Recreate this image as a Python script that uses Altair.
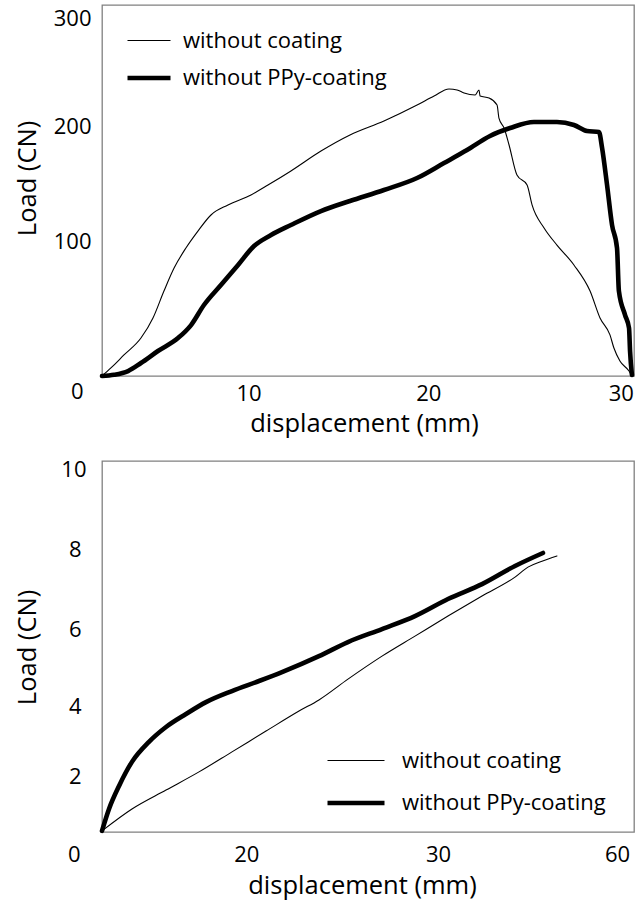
import altair as alt
import pandas as pd

FONT = "Open Sans"
SERIES = ["without coating", "without PPy-coating"]

# Upper test: displacement (mm) vs load (CN)
TOP_THIN_X = [0, 0.52, 1.28, 2.27, 2.97, 3.61, 4.20, 4.89, 5.59, 6.35,
              7.34, 8.68, 9.67, 11.01, 12.76, 14.45, 16.43, 18.36, 19.35, 20.22,
              20.69, 21.10, 21.74, 21.97, 22.03, 22.55, 23.02, 23.13, 23.43, 23.72,
              24.18, 24.77, 25.06, 25.76, 26.51, 27.50, 28.44, 29.02, 29.60, 29.83,
              30.18, 30.71, 30.88]
TOP_THIN_Y = [0, 6.5, 17.0, 30.7, 46.9, 68.7, 87.3, 103.5, 117.2, 130.2,
              138.3, 146.4, 154.4, 165.8, 181.9, 194.9, 206.2, 219.1, 226.4, 232.1,
              231.3, 228.8, 227.2, 231.3, 226.4, 224.8, 219.1, 208.6, 200.5, 186.8,
              162.5, 154.4, 138.3, 119.7, 105.9, 89.8, 68.7, 46.9, 33.2, 22.6,
              12.1, 4.0, 0]
TOP_THICK_X = [0, 0.70, 1.52, 2.27, 3.26, 4.43, 5.19, 5.94, 6.93, 7.93,
               8.86, 9.85, 11.01, 12.76, 14.45, 16.43, 18.36, 19.93, 21.27, 22.61,
               23.78, 25.17, 26.51, 27.50, 28.26, 28.96, 29.14, 29.43, 29.72, 30.01,
               30.12, 30.48, 30.71, 30.77, 30.88]
TOP_THICK_Y = [0, 1.0, 4.0, 10.5, 20.2, 30.7, 41.2, 57.4, 73.6, 89.8,
               105.1, 114.0, 122.1, 133.4, 141.5, 150.4, 160.1, 172.2, 182.7, 194.1,
               200.5, 205.4, 205.4, 203.0, 198.1, 197.3, 184.4, 154.4, 122.1, 103.5,
               68.7, 49.3, 38.8, 20.2, 0.8]

# Lower test
BOT_THIN_X = [0, 3.38, 7.22, 10.94, 14.66, 18.50, 22.22, 24.47, 27.74, 31.58,
              35.30, 39.02, 42.86, 46.58, 48.04, 49.62, 51.31]
BOT_THIN_Y = [0.03, 0.62, 1.13, 1.62, 2.16, 2.72, 3.26, 3.56, 4.12, 4.74,
              5.28, 5.82, 6.36, 6.87, 7.14, 7.30, 7.44]
BOT_THICK_X = [0, 0.79, 1.92, 3.38, 5.30, 7.22, 9.47, 11.73, 14.66, 17.71,
               20.30, 24.47, 27.74, 31.58, 35.30, 39.02, 42.86, 46.58, 49.73]
BOT_THICK_Y = [0.03, 0.62, 1.24, 1.89, 2.43, 2.83, 3.18, 3.50, 3.80, 4.07,
               4.31, 4.74, 5.12, 5.47, 5.82, 6.28, 6.68, 7.17, 7.52]

TOP_X_TICKS = [10, 20, 30]
TOP_Y_TICKS = [0, 100, 200, 300]
BOT_X_TICKS = [20, 30, 60]
BOT_Y_TICKS = [0, 2, 4, 6, 8, 10]


def frame(thin_x, thin_y, thick_x, thick_y):
    rows = []
    for name, xs, ys in ((SERIES[0], thin_x, thin_y), (SERIES[1], thick_x, thick_y)):
        for i, (a, b) in enumerate(zip(xs, ys)):
            rows.append({"series": name, "idx": i, "d": a, "load": b})
    return pd.DataFrame(rows)


def per_tick(shift, default):
    return {
        "condition": [{"test": f"datum.value == {v}", "value": s} for v, s in shift.items()],
        "value": default,
    }


def x_axis(ticks, shift, pad, title_x, title_y):
    return alt.Axis(
        values=ticks, ticks=False, domain=False, grid=False,
        labelFont=FONT, labelFontSize=22, labelColor="black",
        labelBaseline="alphabetic", labelAlign="center",
        labelPadding=pad, labelOffset=per_tick(shift, 0),
        labelFlush=False, labelOverlap=False,
        title="displacement (mm)", titleFont=FONT, titleFontSize=25.5,
        titleFontWeight="normal", titleColor="black",
        titleX=title_x, titleY=title_y, titleAlign="center", titleBaseline="alphabetic",
    )


def y_axis(ticks, shift, pad, pad_default, title_y):
    return alt.Axis(
        values=ticks, ticks=False, domain=False, grid=False,
        labelFont=FONT, labelFontSize=22, labelColor="black",
        labelBaseline="alphabetic", labelAlign="right",
        labelPadding=per_tick(pad, pad_default), labelOffset=per_tick(shift, 0),
        labelFlush=False, labelOverlap=False,
        title="Load (CN)", titleFont=FONT, titleFontSize=25.5,
        titleFontWeight="normal", titleColor="black",
        titleX=-75, titleY=title_y, titleAngle=270,
        titleAlign="center", titleBaseline="middle",
    )


def legend(lx, ly, size, gap, row_pad):
    return alt.Legend(
        title=None, orient="none", legendX=lx, legendY=ly, padding=0,
        symbolType="stroke", symbolSize=size, symbolStrokeColor="black",
        labelFont=FONT, labelFontSize=22, labelColor="black", labelLimit=0,
        labelOffset=gap, rowPadding=row_pad,
    )


def panel(df, xdom, ydom, xax, yax, leg):
    return alt.Chart(df).mark_line(
        color="black", strokeCap="round", strokeJoin="round", interpolate="monotone"
    ).encode(
        x=alt.X("d:Q", scale=alt.Scale(domain=xdom, nice=False, zero=False), axis=xax),
        y=alt.Y("load:Q", scale=alt.Scale(domain=ydom, nice=False, zero=False), axis=yax),
        strokeWidth=alt.StrokeWidth(
            "series:N",
            scale=alt.Scale(domain=SERIES, range=[1.1, 4.6]),
            legend=leg,
        ),
        order="idx:Q",
    ).properties(width=532, height=371)


top = panel(
    frame(TOP_THIN_X, TOP_THIN_Y, TOP_THICK_X, TOP_THICK_Y),
    [0, 31], [0, 300],
    x_axis(TOP_X_TICKS, {10: -25, 20: -17, 30: 4}, 24.5, 262, 55),
    y_axis(TOP_Y_TICKS, {300: 20, 200: 5, 100: -4, 0: 22}, {0: 19}, 11, 173),
    legend(23, 13, 1849, 10, 2),
)

bottom = panel(
    frame(BOT_THIN_X, BOT_THIN_Y, BOT_THICK_X, BOT_THICK_Y),
    [0, 60], [0, 10],
    x_axis(BOT_X_TICKS, {20: -33, 30: 70, 60: -17}, 29, 260, 61),
    y_axis(BOT_Y_TICKS, {10: 15, 8: 21, 6: 27, 4: 30, 2: 26, 0: 29}, {10: 16, 0: 22}, 21, 186),
    legend(223, 270, 3249, 15, -4),
)

chart = alt.vconcat(top, bottom, spacing=19).resolve_scale(
    x="independent", y="independent", strokeWidth="independent"
).resolve_legend(
    strokeWidth="independent"
).configure_view(
    stroke="#808080", strokeWidth=1.3
).properties(
    background="white",
    padding={"left": 14, "top": 4, "right": 1, "bottom": 2},
)

chart.save("out.html", embed_options={"renderer": "svg", "actions": False})
